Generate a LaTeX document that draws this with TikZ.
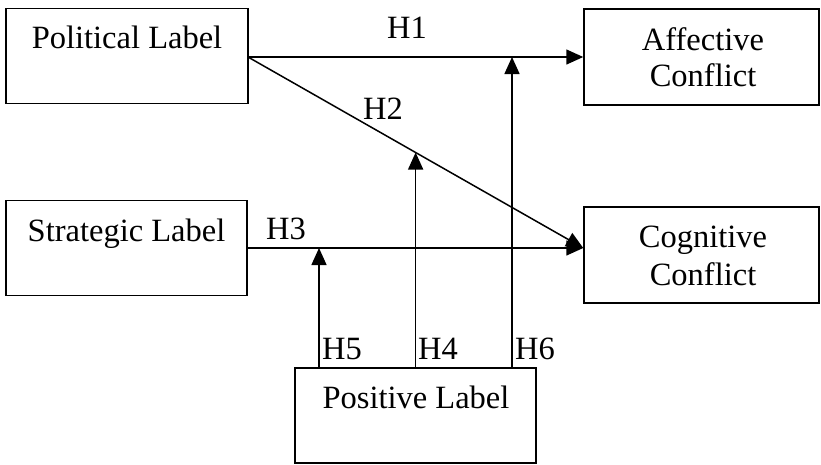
\documentclass[tikz,border=0pt]{standalone}
\usepackage{fontspec}
\setmainfont{Liberation Serif}
\usetikzlibrary{arrows.meta,calc}
\begin{document}
\begin{tikzpicture}[x=1pt,y=-1pt,
  box/.style={draw,line width=1.5pt,inner sep=0pt,minimum width=#1},
  box/.default=241pt,
  txt/.style={anchor=base,inner sep=0pt,font=\fontsize{32.5}{36}\selectfont},
  hlab/.style={anchor=base west,inner sep=0pt,font=\fontsize{32.5}{36}\selectfont},
  arr/.style={line width=1.5pt,-{Triangle[length=17pt,width=15pt]}}]
\useasboundingbox (0,0) rectangle (821,464);
% boxes
\node[box=242pt,minimum height=95pt] (pol) at (127,56) {};
\node[box=235pt,minimum height=96pt] (aff) at (701.5,57) {};
\node[box=241pt,minimum height=95pt] (str) at (126.5,248) {};
\node[box=235pt,minimum height=96pt] (cog) at (701.5,255) {};
\node[box=241pt,minimum height=95pt] (pos) at (415.5,415.5) {};
% texts
\node[txt] (polt) at (127,48) {Political Label};
\node[txt] (strt) at (126.5,241) {Strategic Label};
\node[txt] (affa) at (703,50) {Affective};
\node[txt] (affb) at (703,86) {Conflict};
\node[txt] (coga) at (703,247) {Cognitive};
\node[txt] (cogb) at (703,285) {Conflict};
\node[txt] (post) at (416,408) {Positive Label};
% connection points
\coordinate (p1) at (248,57);
\coordinate (a1) at (aff.west |- p1);
\coordinate (cin) at (cog.west |- str.east);
\coordinate (m2) at ($(p1)!0.5!(cin)$);
\coordinate (h5) at (319,0);
\coordinate (h5t) at (h5 |- str.east);
\coordinate (h6) at (512,0);
\coordinate (h6t) at (h6 |- p1);
% connectors
\draw[arr] (p1) -- (a1);
\draw[arr] (p1) -- (cin);
\draw[arr] (str.east) -- (cin);
\draw[arr] (h5 |- pos.north) -- (h5t);
\draw[arr] (m2 |- pos.north) -- (m2);
\draw[arr] (h6 |- pos.north) -- (h6t);
% labels
\node[hlab] (H1) at (387,38) {H1};
\node[hlab] (H2) at (363,119) {H2};
\node[hlab] (H3) at (266,239) {H3};
\node[hlab] (H5) at (322,359) {H5};
\node[hlab] (H4) at (418,359) {H4};
\node[hlab] (H6) at (515,359) {H6};
\end{tikzpicture}
\end{document}
